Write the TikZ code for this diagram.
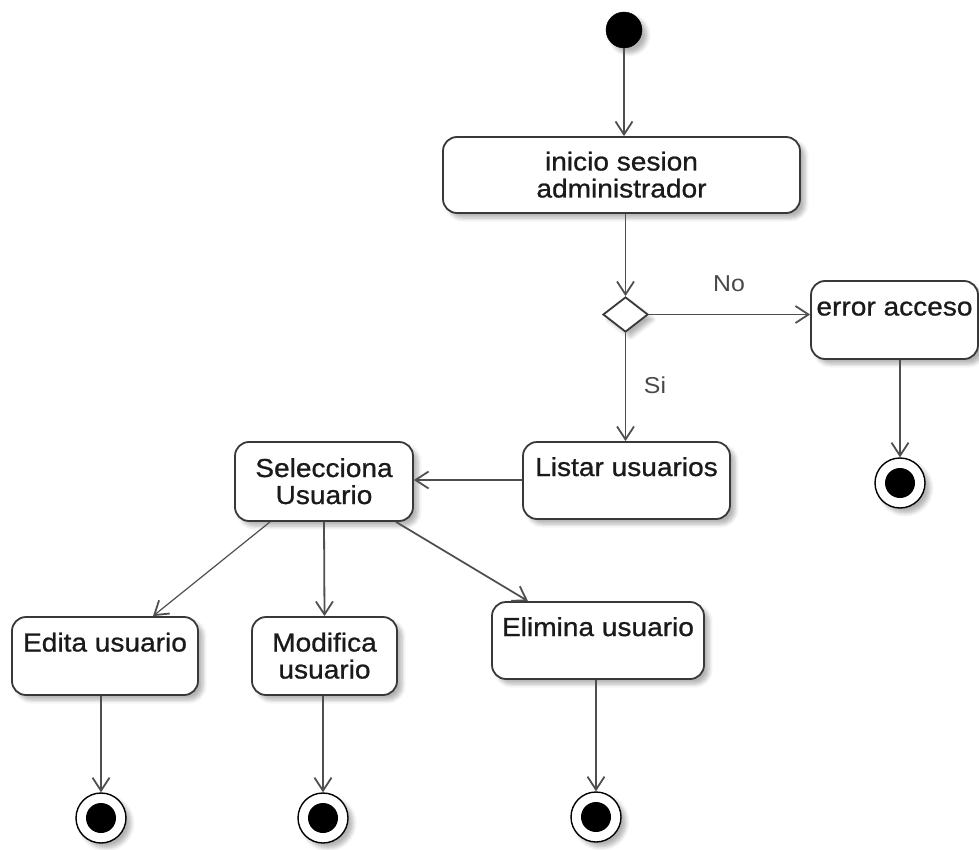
\documentclass[tikz,border=0pt]{standalone}
\usepackage{fontspec}
\setmainfont{Liberation Sans}[FakeStretch=1.08]
\newfontfamily\boxfont{Liberation Sans}[FakeStretch=1.08,FakeBold=0.9]
\usetikzlibrary{arrows.meta,shapes.geometric,shadows.blur}
\definecolor{edge}{HTML}{4F4F4F}
\definecolor{frame}{HTML}{383838}
\definecolor{ink}{HTML}{1A1A1A}
% line strut: 27pt tall, centred on the x-height middle
\newcommand{\lnstrut}{\rule[-4.5pt]{0pt}{27pt}}
\begin{document}
\begin{tikzpicture}[x=1pt,y=-1pt,
  softshadow/.style={blur shadow={shadow xshift=5pt,shadow yshift=-5pt,
      shadow blur steps=6,shadow blur radius=4pt,shadow opacity=30}},
  action/.style={draw=frame,line width=1.8pt,rounded corners=14pt,fill=white,
      inner sep=0pt,align=center,text=ink,softshadow,
      font=\boxfont\fontsize{26}{27}\selectfont},
  startnode/.style={circle,fill=black,draw=black,minimum size=36pt,inner sep=0pt,softshadow},
  endnode/.style={circle,draw=black,line width=1.4pt,fill=white,minimum size=50pt,inner sep=0pt,
      softshadow,path picture={\fill[black] (path picture bounding box.center) circle[radius=15pt];}},
  decision/.style={diamond,draw=frame,line width=1.8pt,fill=white,aspect=1.3,
      minimum width=45pt,minimum height=35pt,inner sep=0pt,softshadow},
  flow/.style={draw=edge,line width=1.8pt,-{Straight Barb[length=13pt,width=17pt,line width=1.8pt]}},
  guard/.style={text=ink!80,font=\fontsize{23}{25}\selectfont}
]
\useasboundingbox (0,0) rectangle (979,850);

% states
\node[startnode] (start) at (624,30) {};
\node[action,minimum width=357pt,minimum height=76pt] (ini) at (621.5,175)
  {\lnstrut inicio sesion\\\lnstrut administrador};
\node[decision] (dec) at (625.5,314.5) {};
\node[action,minimum width=167pt,minimum height=78pt] (err) at (894.5,320)
  {\lnstrut error acceso\\\lnstrut};
\node[endnode] (endErr) at (900,483) {};
\node[action,minimum width=207pt,minimum height=77pt] (lst) at (626.5,480.5)
  {\lnstrut Listar usuarios\\\lnstrut};
\node[action,minimum width=178pt,minimum height=79pt] (sel) at (324,481.5)
  {\lnstrut Selecciona\\\lnstrut Usuario};
\node[action,minimum width=186pt,minimum height=78pt] (edi) at (105,656)
  {\lnstrut Edita usuario\\\lnstrut};
\node[action,minimum width=145pt,minimum height=78pt] (mod) at (324.5,656)
  {\lnstrut Modifica\\\lnstrut usuario};
\node[action,minimum width=212pt,minimum height=77pt] (eli) at (598,640.5)
  {\lnstrut Elimina usuario\\\lnstrut};
\node[endnode] (endEdi) at (101,818) {};
\node[endnode] (endMod) at (323,818) {};
\node[endnode] (endEli) at (596,817) {};

% guard labels
\node[guard] (lblNo) at (729,284) {No};
\node[guard] (lblSi) at (655,385) {Si};

% transitions
\draw[flow] (start) -- (start |- ini.north);
\draw[flow] (dec.north |- ini.south) -- (dec.north);
\draw[flow] (dec.east) -- (dec.east -| err.west);
\draw[flow] (dec.south) -- (dec.south |- lst.north);
\draw[flow] (endErr.north |- err.south) -- (endErr.north);
\draw[flow] (lst.west |- 0,480) -- (sel.east |- 0,480);
\draw[flow,line width=1.2pt] ([xshift=-54pt]sel.south) -- ([xshift=48pt]edi.north);
\draw[flow] (sel.south) -- (mod.north);
\draw[flow] ([xshift=72pt]sel.south) -- ([xshift=-70pt]eli.north);
\draw[flow] (endEdi.north |- edi.south) -- (endEdi.north);
\draw[flow] (endMod.north |- mod.south) -- (endMod.north);
\draw[flow] (endEli.north |- eli.south) -- (endEli.north);
\end{tikzpicture}
\end{document}
